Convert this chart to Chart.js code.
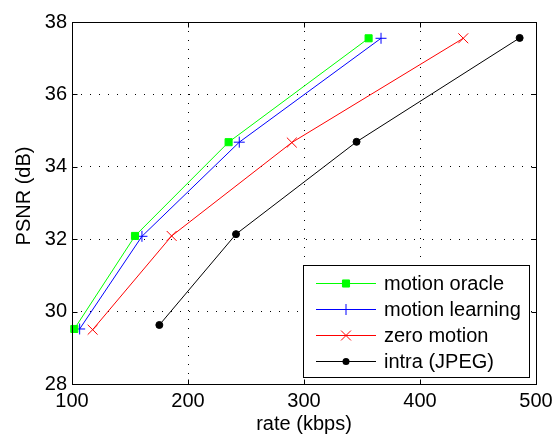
<!DOCTYPE html>
<html>
<head>
<meta charset="utf-8">
<script src="https://cdn.jsdelivr.net/npm/chart.js@4/dist/chart.umd.min.js"></script>
<style>
  html, body { margin: 0; padding: 0; background: #ffffff; }
  canvas { display: block; }
</style>
</head>
<body>
<canvas id="c" width="559" height="436"></canvas>
<script>
// ---- data ----
const seriesNames = ['motion oracle', 'motion learning', 'zero motion', 'intra (JPEG)'];
const oracleRate   = [102.0, 154.3, 235.0, 355.7];
const oraclePsnr   = [29.52, 32.09, 34.68, 37.55];
const learningRate = [106.6, 160.3, 244.2, 366.4];
const learningPsnr = [29.52, 32.08, 34.68, 37.55];
const zeroRate     = [117.8, 185.9, 289.5, 437.3];
const zeroPsnr     = [29.50, 32.09, 34.67, 37.55];
const intraRate    = [175.3, 241.4, 345.3, 485.9];
const intraPsnr    = [29.63, 32.14, 34.69, 37.56];
const xTicks = [100, 200, 300, 400, 500];
const yTicks = [28, 30, 32, 34, 36, 38];
const xTitle = 'rate (kbps)';
const yTitle = 'PSNR (dB)';

const FONT = "'Liberation Sans', Arial, Helvetica, sans-serif";
const FSIZE = 20;

function pts(xs, ys) { return xs.map((x, i) => ({ x: x, y: ys[i] })); }

const styles = [
  { color: '#00ff00', pointStyle: 'rect',     radius: 5,   fill: true },
  { color: '#0000ff', pointStyle: 'cross',    radius: 5.5, fill: false },
  { color: '#ff0000', pointStyle: 'crossRot', radius: 7,   fill: false },
  { color: '#000000', pointStyle: 'circle',   radius: 3.5, fill: true }
];
const values = [
  pts(oracleRate, oraclePsnr),
  pts(learningRate, learningPsnr),
  pts(zeroRate, zeroPsnr),
  pts(intraRate, intraPsnr)
];

const datasets = values.map((d, i) => ({
  label: seriesNames[i],
  data: d,
  borderColor: styles[i].color,
  backgroundColor: styles[i].color,
  borderWidth: 1,
  pointStyle: styles[i].pointStyle,
  pointRadius: styles[i].radius,
  pointHoverRadius: styles[i].radius,
  pointBackgroundColor: styles[i].fill ? styles[i].color : 'rgba(0,0,0,0)',
  pointBorderColor: styles[i].color,
  pointBorderWidth: 1,
  tension: 0,
  fill: false,
  clip: false
}));

function edgeTransparent(c) {
  if (!c.tick) return '#000';
  const s = c.scale;
  if (Math.abs(c.tick.value - s.min) < 1e-9 || Math.abs(c.tick.value - s.max) < 1e-9) return 'rgba(0,0,0,0)';
  return '#000';
}

// frame with inward ticks (MATLAB style) + y title
const framePlugin = {
  id: 'frame',
  afterDatasetsDraw(chart) {
    const { ctx, chartArea: a, scales } = chart;
    const L = Math.round(a.left) + 0.5, R = Math.round(a.right) + 0.5;
    const T = Math.round(a.top) + 0.5, B = Math.round(a.bottom) + 0.5;
    ctx.save();
    ctx.strokeStyle = '#000';
    ctx.lineWidth = 1;
    ctx.setLineDash([]);
    ctx.strokeRect(L, T, R - L, B - T);
    const tl = 5;
    ctx.beginPath();
    scales.x.ticks.forEach(t => {
      const px = Math.round(scales.x.getPixelForValue(t.value)) + 0.5;
      ctx.moveTo(px, B); ctx.lineTo(px, B - tl);
      ctx.moveTo(px, T); ctx.lineTo(px, T + tl);
    });
    scales.y.ticks.forEach(t => {
      const py = Math.round(scales.y.getPixelForValue(t.value)) + 0.5;
      ctx.moveTo(L, py); ctx.lineTo(L + tl, py);
      ctx.moveTo(R, py); ctx.lineTo(R - tl, py);
    });
    ctx.stroke();

    // y axis title (rotated), slightly above the plot centre as in the reference
    ctx.translate(a.left - 48, (a.top + a.bottom) / 2 - 7);
    ctx.rotate(-Math.PI / 2);
    ctx.font = FSIZE + 'px ' + FONT;
    ctx.fillStyle = '#000';
    ctx.textAlign = 'center';
    ctx.textBaseline = 'middle';
    ctx.fillText(yTitle, 0, 0);
    ctx.restore();
  }
};

function drawMarker(ctx, style, r, color, x, y) {
  ctx.save();
  ctx.strokeStyle = color;
  ctx.fillStyle = color;
  ctx.lineWidth = 1;
  ctx.beginPath();
  if (style === 'rect') {
    const s = Math.SQRT1_2 * r;
    ctx.rect(x - s, y - s, 2 * s, 2 * s);
    ctx.fill(); ctx.stroke();
  } else if (style === 'cross') {
    ctx.moveTo(x - r, y); ctx.lineTo(x + r, y);
    ctx.moveTo(x, y - r); ctx.lineTo(x, y + r);
    ctx.stroke();
  } else if (style === 'crossRot') {
    const s = Math.SQRT1_2 * r;
    ctx.moveTo(x - s, y - s); ctx.lineTo(x + s, y + s);
    ctx.moveTo(x - s, y + s); ctx.lineTo(x + s, y - s);
    ctx.stroke();
  } else {
    ctx.arc(x, y, r, 0, Math.PI * 2);
    ctx.fill();
  }
  ctx.restore();
}

// legend box inside plot, lower right
const legendPlugin = {
  id: 'boxLegend',
  afterDraw(chart) {
    const { ctx, chartArea: a } = chart;
    const w = 226, h = 112;
    const right = Math.round(a.right) - 7, bottom = Math.round(a.bottom) - 7;
    const left = right - w, top = bottom - h;
    ctx.save();
    ctx.fillStyle = '#ffffff';
    ctx.fillRect(left, top, w, h);
    ctx.strokeStyle = '#000';
    ctx.lineWidth = 1;
    ctx.strokeRect(left + 0.5, top + 0.5, w, h);
    ctx.font = FSIZE + 'px ' + FONT;
    ctx.textBaseline = 'middle';
    ctx.textAlign = 'left';
    chart.data.datasets.forEach((ds, i) => {
      const y = Math.round(top + 18 + i * 26) + 0.5;
      ctx.strokeStyle = ds.borderColor;
      ctx.lineWidth = 1;
      ctx.beginPath();
      ctx.moveTo(left + 13, y); ctx.lineTo(left + 73, y);
      ctx.stroke();
      drawMarker(ctx, ds.pointStyle, ds.pointRadius, ds.borderColor, left + 43, y);
      ctx.fillStyle = '#000';
      ctx.fillText(ds.label, left + 81, y + 1);
    });
    ctx.restore();
  }
};

new Chart(document.getElementById('c'), {
  type: 'line',
  data: { datasets: datasets },
  options: {
    responsive: false,
    animation: false,
    devicePixelRatio: 1,
    layout: { padding: { left: 0, top: 22, right: 23, bottom: 0 } },
    plugins: {
      legend: { display: false },
      tooltip: { enabled: false }
    },
    scales: {
      x: {
        type: 'linear',
        min: xTicks[0],
        max: xTicks[xTicks.length - 1],
        afterBuildTicks(s) { s.ticks = xTicks.map(v => ({ value: v })); },
        afterFit(s) { s.height = 52; },
        ticks: { color: '#000', font: { family: FONT, size: FSIZE }, padding: 5, maxRotation: 0 },
        grid: { color: edgeTransparent, drawTicks: false, lineWidth: 1 },
        border: { display: false, dash: [1, 8] },
        title: { display: true, text: xTitle, color: '#000', font: { family: FONT, size: FSIZE }, padding: { top: 0, bottom: 0 } }
      },
      y: {
        type: 'linear',
        min: yTicks[0],
        max: yTicks[yTicks.length - 1],
        afterBuildTicks(s) { s.ticks = yTicks.map(v => ({ value: v })); },
        afterFit(s) { s.width = 72; },
        ticks: { color: '#000', font: { family: FONT, size: FSIZE }, padding: 5 },
        grid: { color: edgeTransparent, drawTicks: false, lineWidth: 1 },
        border: { display: false, dash: [1, 8] },
        title: { display: false, text: yTitle }
      }
    }
  },
  plugins: [framePlugin, legendPlugin]
});
</script>
</body>
</html>
